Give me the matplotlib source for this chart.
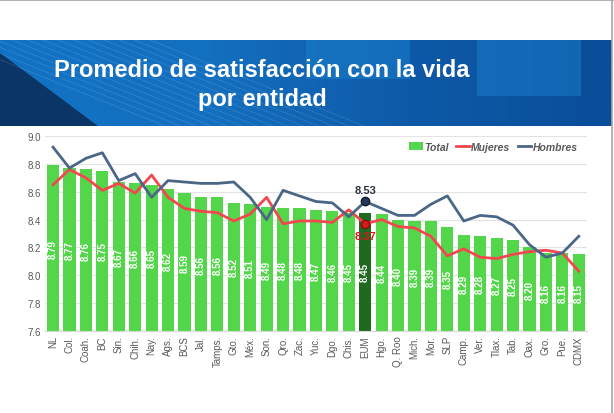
import matplotlib
matplotlib.use("Agg")
import matplotlib.pyplot as plt
import numpy as np
from matplotlib.patches import Polygon, Rectangle
from matplotlib.colors import LinearSegmentedColormap

plt.rcParams['font.family'] = ['Liberation Sans', 'DejaVu Sans']

# Data
states = ['NL', 'Col.', 'Coah.', 'BC', 'Sin.', 'Chih.', 'Nay.', 'Ags.', 'BCS', 'Jal.',
          'Tamps.', 'Gto.', 'Méx.', 'Son.', 'Qro.', 'Zac.', 'Yuc.', 'Dgo.', 'Chis.', 'EUM',
          'Hgo.', 'Q. Roo', 'Mich.', 'Mor.', 'SLP', 'Camp.', 'Ver.', 'Tlax.', 'Tab.', 'Oax.',
          'Gro.', 'Pue.', 'CDMX']
total = [8.79, 8.77, 8.76, 8.75, 8.67, 8.66, 8.65, 8.62, 8.59, 8.56,
         8.56, 8.52, 8.51, 8.49, 8.48, 8.48, 8.47, 8.46, 8.45, 8.45,
         8.44, 8.40, 8.39, 8.39, 8.35, 8.29, 8.28, 8.27, 8.25, 8.20,
         8.16, 8.16, 8.15]
mujeres = [8.65, 8.76, 8.70, 8.61, 8.66, 8.59, 8.72, 8.56, 8.48, 8.46,
           8.45, 8.39, 8.44, 8.56, 8.37, 8.39, 8.39, 8.38, 8.47, 8.37,
           8.40, 8.35, 8.34, 8.28, 8.14, 8.19, 8.13, 8.12, 8.15, 8.17,
           8.18, 8.16, 8.03]
hombres = [8.92, 8.77, 8.84, 8.88, 8.68, 8.73, 8.56, 8.68, 8.67, 8.66,
           8.66, 8.67, 8.56, 8.40, 8.61, 8.57, 8.53, 8.52, 8.42, 8.53,
           8.48, 8.43, 8.43, 8.51, 8.57, 8.39, 8.43, 8.42, 8.36, 8.22,
           8.13, 8.16, 8.28]
yticks = [7.6, 7.8, 8.0, 8.2, 8.4, 8.6, 8.8, 9.0]
title = "Promedio de satisfacción con la vida\npor entidad"

GREEN = '#54d64a'
DARK_GREEN = '#1f6a1f'
RED = '#f2474f'
BLUE = '#4a6787'
GRAY = '#595959'

fig = plt.figure(figsize=(6.14, 4.14), dpi=100)

# Banner background
bax = fig.add_axes([0, 1 - 127 / 414, 612 / 614, 86 / 414])
bax.set_xlim(0, 1)
bax.set_ylim(0, 1)
bax.axis('off')
xx = np.linspace(0, 1, 300)
grad = np.vstack([xx] * 10)
cmap = LinearSegmentedColormap.from_list('banner', ['#1272c4', '#1470c0', '#0e5aa8', '#0a4d98'])
bax.imshow(grad, extent=[0, 1, 0, 1], aspect='auto', cmap=cmap)
bax.add_patch(Rectangle((0.50, 0.55), 0.17, 0.45, color='#1a80cc', alpha=0.5, lw=0))
bax.add_patch(Rectangle((0.78, 0.35), 0.17, 0.65, color='#1a80cc', alpha=0.5, lw=0))
bax.add_patch(Polygon([(0, 0), (0, 0.85), (0.16, 0)], closed=True, color='#0b3566', lw=0))
for k in range(14):
    x0 = -0.08 + k * 0.025
    bax.plot([x0, x0 + 0.35], [1, 0], color='white', alpha=0.12, lw=0.6)
bax.text(262 / 612, 0.49, title, ha='center', va='center', color='white',
         fontsize=17, fontweight='bold', linespacing=1.35)

# Frame lines
fig.add_artist(plt.Line2D([0, 1], [0.998, 0.998], color='#a6a6a6', lw=1.2))
fig.add_artist(plt.Line2D([612 / 614, 612 / 614], [0, 1], color='#a6a6a6', lw=1.2))

# Chart
ax = fig.add_axes([0.073, 0.198, 0.883, 0.471])
x = np.arange(len(states))
colors = [DARK_GREEN if s == 'EUM' else GREEN for s in states]
bars = ax.bar(x, np.array(total) - 7.6, bottom=7.6, width=0.74, color=colors, zorder=2)
l_muj, = ax.plot(x, mujeres, color=RED, lw=2, zorder=3)
l_hom, = ax.plot(x, hombres, color=BLUE, lw=2, zorder=3)

for i, v in enumerate(total):
    ax.text(i, (7.6 + v) / 2, f'{v:.2f}', rotation=90, ha='center', va='center',
            color='white', fontsize=7, fontweight='bold', zorder=4)

ie = states.index('EUM')
ax.plot(ie, hombres[ie], 'o', ms=6, color='#26385a', mec='#111a2a', zorder=5)
ax.plot(ie, mujeres[ie], 'o', ms=6, color='#d41a1a', mec='#8a0f0f', zorder=5)
ax.text(ie, hombres[ie] + 0.045, f'{hombres[ie]:.2f}', ha='center', va='bottom',
        color='#2b3340', fontsize=8, fontweight='bold', zorder=6)
ax.text(ie, mujeres[ie] - 0.055, f'{mujeres[ie]:.2f}', ha='center', va='top',
        color='#e0141e', fontsize=8, fontweight='bold', zorder=6)

ax.set_xlim(-0.5, len(states) - 0.5)
ax.set_ylim(7.6, 9.0)
ax.set_yticks(yticks)
ax.set_yticklabels([f'{t:.1f}' for t in yticks])
ax.set_xticks(x)
ax.set_xticklabels(states, rotation=90)
ax.tick_params(axis='both', labelsize=7, colors=GRAY, length=0, pad=3)
ax.grid(axis='y', color='#e3e3e3', lw=0.8, zorder=0)
for s in ['top', 'right', 'left']:
    ax.spines[s].set_visible(False)
ax.spines['bottom'].set_color('#d9d9d9')

leg = ax.legend([bars, l_muj, l_hom], ['Total', 'Mujeres', 'Hombres'],
                loc='upper right', ncol=3, frameon=False,
                handlelength=1.3, handletextpad=0.15, columnspacing=0.7,
                bbox_to_anchor=(1.0, 1.02), prop={'style': 'italic', 'weight': 'bold', 'size': 7.5})
for t in leg.get_texts():
    t.set_color(GRAY)

plt.savefig('out.png', dpi=100)
